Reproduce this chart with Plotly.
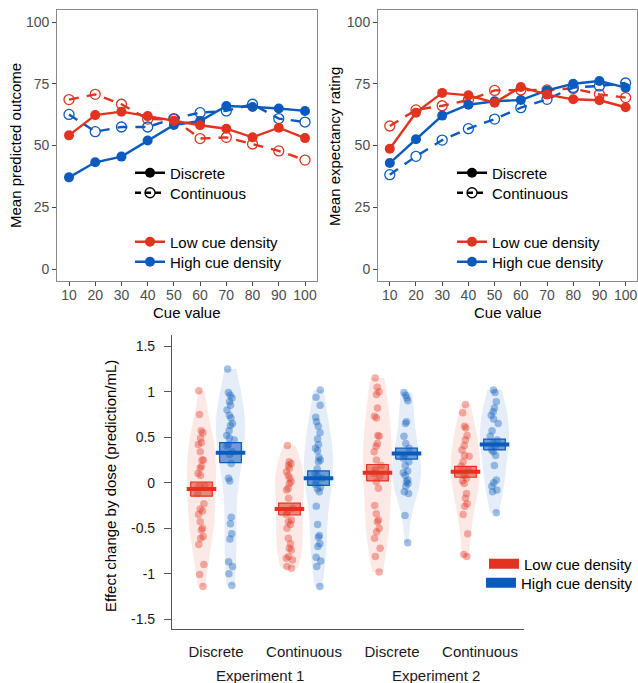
import plotly.graph_objects as go

# ---------------- data ----------------
cue = [10, 20, 30, 40, 50, 60, 70, 80, 90, 100]

pred_low_disc = [54.1, 62.3, 63.7, 61.9, 60.0, 58.2, 56.8, 53.3, 57.2, 53.0]
pred_low_cont = [68.6, 70.7, 66.7, 60.7, 60.6, 52.8, 53.3, 50.6, 47.8, 44.1]
pred_high_disc = [37.1, 43.2, 45.5, 52.0, 58.3, 59.9, 66.0, 65.6, 65.0, 64.0]
pred_high_cont = [62.6, 55.6, 57.5, 57.5, 60.9, 63.3, 64.0, 66.7, 60.9, 59.5]

exp_low_disc = [48.7, 63.3, 71.3, 70.3, 67.3, 73.7, 70.6, 68.7, 68.3, 65.5]
exp_low_cont = [57.9, 64.4, 66.1, 68.4, 72.3, 72.5, 72.5, 73.1, 70.7, 69.4]
exp_high_disc = [42.9, 52.5, 62.1, 66.5, 67.9, 68.4, 72.3, 75.0, 76.1, 73.4]
exp_high_cont = [38.2, 45.6, 52.2, 56.8, 60.7, 65.3, 68.7, 73.5, 74.1, 75.3]

groups = ["Discrete", "Continuous", "Discrete", "Continuous"]
experiments = ["Experiment 1", "Experiment 2"]

e1_disc_low = [1.01, 0.75, 0.57, 0.55, 0.49, 0.44, 0.42, 0.34, 0.25, 0.25, 0.18, 0.16, 0.10, 0.08,
               -0.03, -0.04, -0.12, -0.23, -0.29, -0.31, -0.35, -0.43, -0.50, -0.52, -0.59, -0.61,
               -0.68, -0.90, -1.01, -1.14]
e1_disc_high = [1.25, 0.99, 0.96, 0.93, 0.89, 0.85, 0.80, 0.74, 0.71, 0.65, 0.63, 0.57, 0.52, 0.49,
                0.47, 0.42, 0.40, 0.34, 0.31, 0.21, 0.05, 0.02, -0.38, -0.45, -0.56, -0.62, -0.87,
                -0.92, -1.00, -1.13]
e1_cont_low = [0.41, 0.23, 0.21, 0.19, 0.16, 0.12, 0.08, 0.05, 0.01, -0.01, -0.06, -0.08, -0.17,
               -0.28, -0.32, -0.35, -0.41, -0.43, -0.46, -0.50, -0.61, -0.67, -0.72, -0.74, -0.81,
               -0.83, -0.85, -0.92, -0.94]
e1_cont_high = [1.02, 0.94, 0.85, 0.72, 0.67, 0.62, 0.55, 0.48, 0.42, 0.38, 0.35, 0.28, 0.25, 0.23,
                0.15, 0.10, 0.08, 0.05, 0.02, -0.02, -0.05, -0.07, -0.10, -0.26, -0.46, -0.58,
                -0.60, -0.67, -0.70, -0.82, -0.86, -0.92, -1.14]
e2_disc_low = [1.15, 1.05, 1.00, 0.97, 0.82, 0.73, 0.71, 0.52, 0.51, 0.43, 0.40, 0.34, 0.25, 0.19,
               0.14, 0.10, 0.07, 0.01, -0.06, -0.25, -0.34, -0.41, -0.43, -0.50, -0.54, -0.61,
               -0.72, -0.81, -0.98]
e2_disc_high = [0.99, 0.96, 0.93, 0.90, 0.67, 0.65, 0.51, 0.43, 0.38, 0.30, 0.27, 0.23, 0.19, 0.13,
                0.11, 0.08, 0.03, 0.01, -0.01, -0.04, -0.10, -0.12, -0.36, -0.66]
e2_cont_low = [0.86, 0.77, 0.62, 0.60, 0.52, 0.47, 0.41, 0.36, 0.30, 0.29, 0.23, 0.18, 0.14, 0.08,
               0.05, 0.02, -0.01, -0.12, -0.17, -0.23, -0.26, -0.35, -0.56, -0.79, -0.81]
e2_cont_high = [1.02, 0.99, 0.89, 0.82, 0.78, 0.74, 0.70, 0.65, 0.57, 0.51, 0.47, 0.43, 0.40, 0.36,
                0.34, 0.30, 0.19, 0.03, 0.00, -0.04, -0.08, -0.10, -0.33]

low_sets = [e1_disc_low, e1_cont_low, e2_disc_low, e2_cont_low]
high_sets = [e1_disc_high, e1_cont_high, e2_disc_high, e2_cont_high]

means_low = [-0.07, -0.29, 0.11, 0.12]
se_low = [0.078, 0.065, 0.09, 0.06]
means_high = [0.33, 0.05, 0.32, 0.42]
se_high = [0.11, 0.08, 0.06, 0.06]

y_ticks_bottom = [1.5, 1, 0.5, 0, -0.5, -1, -1.5]
y_ticktext_bottom = ["1.5", "1", "0.5", "0", "-0.5", "-1", "-1.5"]

# ---------------- styles ----------------
RED = "#E1331F"
BLUE = "#0B5BBE"
RED_RGB = "225,51,31"
BLUE_RGB = "11,91,190"
FONT = "Liberation Sans, Arial, sans-serif"
W, H = 638, 683


def px_x(v):
    return v / W


def px_y(v):
    return 1 - v / H


fig = go.Figure()


def add_line(x, y, color, dashed, xa, ya):
    fig.add_trace(go.Scatter(
        x=x, y=y, mode="lines+markers", xaxis=xa, yaxis=ya, showlegend=False,
        line=dict(color=color, width=2.4, dash="10px,8px" if dashed else "solid"),
        marker=dict(symbol="circle-open" if dashed else "circle", size=10, color=color,
                    line=dict(width=1.3 if dashed else 0, color=color)),
        hoverinfo="skip"))


for xa, ya, sets in [("x", "y", (pred_low_cont, pred_high_cont, pred_low_disc, pred_high_disc)),
                     ("x2", "y2", (exp_low_cont, exp_high_cont, exp_low_disc, exp_high_disc))]:
    lc, hc, ld, hd = sets
    add_line(cue, lc, RED, True, xa, ya)
    add_line(cue, hc, BLUE, True, xa, ya)
    add_line(cue, hd, BLUE, False, xa, ya)
    add_line(cue, ld, RED, False, xa, ya)

# ---------------- bottom panel ----------------
OFF = 0.165
BOXW = 0.123
LINEW = 0.168
for i in range(4):
    pos = i + 1
    for vals, rgb, sign in [(low_sets[i], RED_RGB, -1), (high_sets[i], BLUE_RGB, 1)]:
        p = pos + sign * OFF
        fig.add_trace(go.Violin(
            x=[p] * len(vals), y=vals, xaxis="x3", yaxis="y3", width=0.33,
            fillcolor=f"rgba({rgb},0.11)", line=dict(width=0, color="rgba(0,0,0,0)"),
            points="all", pointpos=0, jitter=0.3, spanmode="hard", scalemode="width",
            marker=dict(color=f"rgba({rgb},0.38)", size=7.5, line=dict(width=0)),
            box=dict(visible=False), meanline=dict(visible=False),
            showlegend=False, hoverinfo="skip"))

for i in range(4):
    pos = i + 1
    for m, s, rgb, col, sign in [(means_low[i], se_low[i], RED_RGB, RED, -1),
                                 (means_high[i], se_high[i], BLUE_RGB, BLUE, 1)]:
        p = pos + sign * OFF
        fig.add_trace(go.Scatter(
            x=[p - BOXW, p + BOXW, p + BOXW, p - BOXW, p - BOXW],
            y=[m - s, m - s, m + s, m + s, m - s],
            mode="lines", fill="toself", fillcolor=f"rgba({rgb},0.55)",
            line=dict(color=col, width=1.2), xaxis="x3", yaxis="y3",
            showlegend=False, hoverinfo="skip"))
        fig.add_trace(go.Scatter(
            x=[p - LINEW, p + LINEW], y=[m, m], mode="lines",
            line=dict(color=col, width=4), xaxis="x3", yaxis="y3",
            showlegend=False, hoverinfo="skip"))

# ---------------- legends (one legend per entry, placed like the reference) ----------------
legend_common = dict(font=dict(family=FONT, size=15, color="black"), bgcolor="rgba(0,0,0,0)",
                     borderwidth=0, itemwidth=30, yanchor="middle",
                     tracegroupgap=0, itemclick=False, itemdoubleclick=False)

entries = []  # (name, line, marker, mode, xaxis, yaxis, x_paper, xanchor, y_px)
disc_line = dict(color="black", width=2.4)
disc_marker = dict(symbol="circle", size=10, color="black")
cont_line = dict(color="black", width=2.4, dash="6px,4px")
cont_marker = dict(symbol="circle-open", size=10, color="black", line=dict(width=1.3, color="black"))
for xa, ya, lx in [("x", "y", 130), ("x2", "y2", 452)]:
    entries.append(("Discrete", disc_line, disc_marker, "lines+markers", xa, ya, px_x(lx), "left", 173))
    entries.append(("Continuous", cont_line, cont_marker, "lines+markers", xa, ya, px_x(lx), "left", 193))
    entries.append(("Low cue density", dict(color=RED, width=2.4),
                    dict(symbol="circle", size=10, color=RED), "lines+markers", xa, ya,
                    px_x(lx), "left", 242))
    entries.append(("High cue density", dict(color=BLUE, width=2.4),
                    dict(symbol="circle", size=10, color=BLUE), "lines+markers", xa, ya,
                    px_x(lx), "left", 262))
# bottom legend anchored at the right edge so it never pushes the margins
entries.append(("Low cue density", dict(color=RED, width=10), None, "lines", "x3", "y3",
                1.0, "right", 564))
entries.append(("High cue density", dict(color=BLUE, width=10), None, "lines", "x3", "y3",
                1.0, "right", 583))

legend_layout = {}
for k, (name, line, marker, mode, xa, ya, lx, xanc, ly) in enumerate(entries):
    lid = "legend" if k == 0 else f"legend{k + 1}"
    kw = dict(x=[None], y=[None], mode=mode, name=name, line=line, legend=lid,
              xaxis=xa, yaxis=ya)
    if marker is not None:
        kw["marker"] = marker
    fig.add_trace(go.Scatter(**kw))
    legend_layout[lid] = dict(x=lx, xanchor=xanc, y=px_y(ly), **legend_common)

# ---------------- layout ----------------
top_y_dom = [px_y(281.35), px_y(9.65)]
top_axis_common = dict(showgrid=False, zeroline=False, showline=True, mirror=True,
                       linecolor="#8a8a8a", linewidth=1, ticks="outside", ticklen=4,
                       tickcolor="#444444", tickwidth=1,
                       tickfont=dict(family=FONT, size=14, color="#4D4D4D"))

fig.update_layout(
    width=W, height=H, autosize=False,
    margin=dict(l=0, r=0, t=0, b=0),
    paper_bgcolor="white", plot_bgcolor="white",
    font=dict(family=FONT, size=15, color="black"),
    violinmode="overlay",
    xaxis=dict(domain=[px_x(57.2), px_x(316.8)], range=[5.5, 104.5], anchor="y",
               tickvals=cue, ticklabelstandoff=-3, **top_axis_common),
    yaxis=dict(domain=top_y_dom, range=[-5, 105], anchor="x",
               tickvals=[0, 25, 50, 75, 100], **top_axis_common),
    xaxis2=dict(domain=[px_x(378), px_x(637.4)], range=[5.5, 104.5], anchor="y2",
                tickvals=cue, ticklabelstandoff=-3, **top_axis_common),
    yaxis2=dict(domain=top_y_dom, range=[-5, 105], anchor="x2",
                tickvals=[0, 25, 50, 75, 100], **top_axis_common),
    xaxis3=dict(domain=[px_x(172), px_x(524)], range=[0.5, 4.5], anchor="y3",
                tickvals=[1, 2, 3, 4], ticktext=groups, showgrid=False, zeroline=False,
                showline=True, linecolor="#555555", linewidth=1.2, ticks="",
                ticklabelstandoff=9,
                tickfont=dict(family=FONT, size=15, color="#1a1a1a")),
    yaxis3=dict(domain=[px_y(629.2), px_y(335.3)], range=[-1.61, 1.62], anchor="x3",
                tickvals=y_ticks_bottom, ticktext=y_ticktext_bottom, showgrid=False,
                zeroline=False, showline=True, linecolor="#555555", linewidth=1.2,
                ticks="outside", ticklen=7, tickcolor="#555555", tickwidth=1.2,
                ticklabelstandoff=6,
                tickfont=dict(family=FONT, size=14, color="#1a1a1a")),
    **legend_layout,
)

annos = [
    dict(text="Mean predicted outcome", x=px_x(15), y=px_y(146), textangle=-90),
    dict(text="Mean expectancy rating", x=px_x(335), y=px_y(147), textangle=-90),
    dict(text="Cue value", x=px_x(187), y=px_y(313)),
    dict(text="Cue value", x=px_x(507.5), y=px_y(313)),
    dict(text="Effect change by dose (prediction/mL)", x=px_x(110), y=px_y(486), textangle=-90),
]
for a in annos:
    fig.add_annotation(xref="paper", yref="paper", showarrow=False, xanchor="center",
                       yanchor="middle", font=dict(family=FONT, size=15, color="black"), **a)

for k, label in enumerate(experiments):
    fig.add_annotation(xref="x3", yref="paper", x=1.5 + 2 * k, y=px_y(675), text=label,
                       showarrow=False, xanchor="center", yanchor="middle",
                       font=dict(family=FONT, size=15, color="#1a1a1a"))

fig.write_html("out.html")
